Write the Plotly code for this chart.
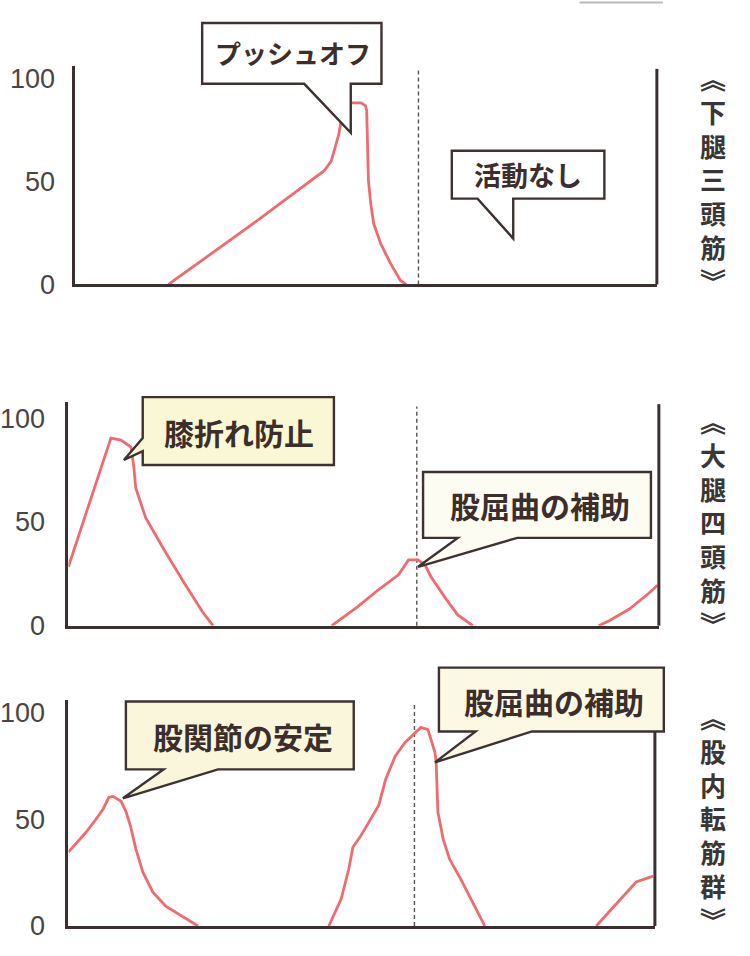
import plotly.graph_objects as go

W, H = 750, 956
EFF_H = 942  # vertical extent the page is actually shown at

# ---------------- data (x = % of gait cycle, y = muscle activity %) ----------------
P1_X = [16.0, 30.8, 42.8, 44.0, 45.3, 45.8, 47.0, 47.4, 49.1, 49.9, 50.1, 50.4, 50.8, 51.3, 52.5, 54.2, 55.9, 56.9]
P1_Y = [0, 30, 55.3, 60, 73, 81, 87, 88.3, 88.3, 87, 84.5, 50.5, 39.3, 29.6, 19.9, 10.2, 1.9, 0]

P2A_X = [0, 7.2, 8.9, 10.6, 11.1, 11.4, 13.1, 16.4, 19.8, 22.7, 24.5]
P2A_Y = [28.4, 90.4, 89.4, 86, 76, 66.3, 51.9, 35.6, 19.7, 6.7, 0]
P2B_X = [44.6, 48.8, 52.5, 55.9, 57.6, 59.2, 60.4, 61.4, 63.8, 65.9, 68.5]
P2B_Y = [0, 8.7, 17.3, 24.5, 31.7, 31.7, 29.3, 23.6, 13.5, 5.3, 0]
P2C_X = [89.8, 91.6, 95.0, 97.8, 99.8]
P2C_Y = [0, 2.4, 8, 14.4, 19.5]

P3A_X = [0, 3.0, 4.7, 5.9, 6.9, 7.6, 9.0, 9.8, 10.6, 11.5, 12.7, 14.4, 16.6, 19.4, 22.1]
P3A_Y = [34.6, 43.9, 50, 54.7, 60.3, 60.7, 58.4, 53.7, 46.7, 36, 25.2, 15.9, 9.3, 4.7, 0]
P3B_X = [44.4, 46.5, 47.8, 48.5, 49.8, 51.5, 52.9, 54.1, 55.7, 57.4, 59.1, 60.1, 61.3, 62.5, 62.7,
         63.0, 63.9, 65.0, 66.9, 69.3, 71.0]
P3B_Y = [0, 12.6, 26.6, 36.9, 42, 50, 56.5, 68.7, 79.4, 86, 90.7, 93, 92, 81.3, 77,
         53.3, 40.7, 31.3, 22, 9.3, 0]
P3C_X = [90.0, 92.2, 94.6, 96.8, 99.7]
P3C_Y = [0, 6.5, 14, 20.6, 23.4]

PHASE_BOUNDARY = 59  # stance / swing boundary (dashed line)

TICK_VALS = [0, 50, 100]
TICK_TEXT = ["0", "50", "100"]

MUSCLES = ["下腿三頭筋", "大腿四頭筋", "股内転筋群"]
CALLOUTS = ["プッシュオフ", "活動なし", "膝折れ防止", "股屈曲の補助", "股関節の安定", "股屈曲の補助"]

# ---------------- styling ----------------
RED = "#ee6b6f"
AXC = "#3a3030"
TXT = "#3b2e2b"
CJK = "Noto Sans CJK JP"


def px(x):
    return x / W


def py(y):
    return 1 - y / EFF_H


fig = go.Figure()

series = [
    (1, [(P1_X, P1_Y)]),
    (2, [(P2A_X, P2A_Y), (P2B_X, P2B_Y), (P2C_X, P2C_Y)]),
    (3, [(P3A_X, P3A_Y), (P3B_X, P3B_Y), (P3C_X, P3C_Y)]),
]
for i, segs in series:
    for xs, ys in segs:
        fig.add_trace(go.Scatter(
            x=xs, y=ys, mode="lines",
            line=dict(color=RED, width=2.8),
            xaxis="x" if i == 1 else f"x{i}",
            yaxis="y" if i == 1 else f"y{i}",
            hoverinfo="skip", showlegend=False,
        ))

# panel geometry in pixels: (left, right, top, bottom(y=0), y=100 position)
panels = {
    1: (69, 656, 65, 284, 78),
    2: (62, 658, 402, 626, 418),
    3: (62, 654, 700, 927, 713),
}
standoff = {1: 12, 2: 15, 3: 15}

layout_axes = {}
shapes = []
for i, (l, r, t, b, y100) in panels.items():
    ppu = (b - y100) / 100.0
    ymax = (b - t) / ppu
    xa = "xaxis" if i == 1 else f"xaxis{i}"
    ya = "yaxis" if i == 1 else f"yaxis{i}"
    xr = "x" if i == 1 else f"x{i}"
    yr = "y" if i == 1 else f"y{i}"
    layout_axes[xa] = dict(
        domain=[px(l), px(r)], range=[0, 100], anchor=yr,
        showline=True, linecolor=AXC, linewidth=3,
        showgrid=False, zeroline=False, showticklabels=False, ticks="",
        fixedrange=True,
    )
    layout_axes[ya] = dict(
        domain=[py(b), py(t)], range=[0, ymax], anchor=xr,
        showline=True, linecolor=AXC, linewidth=3,
        showgrid=False, zeroline=False, ticks="",
        tickvals=TICK_VALS, ticktext=TICK_TEXT,
        tickfont=dict(family="Liberation Sans, Arial", size=27, color="#4a4545"),
        ticklabelstandoff=standoff[i],
        fixedrange=True,
    )
    shapes.append(dict(type="line", xref=f"{xr} domain", yref=f"{yr} domain",
                       x0=1, x1=1, y0=0, y1=1 - (3 if i == 1 else 2) / (b - t),
                       line=dict(color=AXC, width=3), layer="above"))
    shapes.append(dict(type="line", xref=xr, yref=f"{yr} domain",
                       x0=PHASE_BOUNDARY, x1=PHASE_BOUNDARY, y0=0, y1=0.98,
                       line=dict(color="#5a5252", width=1.4, dash="4px,3px"), layer="below"))


def callout_bottom(x0, y0, x1, y1, tl, tr, tip):
    return [(x0, y0), (x1, y0), (x1, y1), (tr, y1), tip, (tl, y1), (x0, y1)]


def callout_left(x0, y0, x1, y1, ta, tb, tip):
    return [(x0, y0), (x1, y0), (x1, y1), (x0, y1), (x0, tb), tip, (x0, ta)]


def path_of(pts):
    return "M " + " L ".join(f"{px(x):.5f},{py(y):.5f}" for x, y in pts) + " Z"


boxes = [
    (CALLOUTS[0], callout_bottom(197, 22, 378, 83, 300, 347, (347, 132)), "#ffffff", (289, 52), 26),
    (CALLOUTS[1], callout_bottom(449, 150, 603, 198, 475, 511, (511, 238)), "#ffffff", (526, 174), 27),
    (CALLOUTS[2], callout_left(137, 397, 330, 465, 438, 451, (118, 460)), "#faf7d4", (234, 432), 30),
    (CALLOUTS[3], callout_bottom(420, 472, 650, 538, 455, 515, (415, 567)), "#fdfcf3", (538, 505), 30),
    (CALLOUTS[4], callout_bottom(120, 702, 350, 770, 158, 213, (117, 799)), "#f9f6dc", (238, 737), 30),
    (CALLOUTS[5], callout_bottom(436, 668, 663, 732, 473, 530, (432, 763)), "#fbf8e4", (552, 701), 30),
]

annotations = []
for text, pts, fill, (cx, cy), fs in boxes:
    shapes.append(dict(type="path", xref="paper", yref="paper", path=path_of(pts),
                       fillcolor=fill, line=dict(color="#3d3230", width=2.4), layer="above"))
    annotations.append(dict(xref="paper", yref="paper", x=px(cx), y=py(cy),
                            xanchor="center", yanchor="middle", showarrow=False,
                            text=f"<b>{text}</b>",
                            font=dict(family=CJK, size=fs, color=TXT)))

for name, cy in zip(MUSCLES, [178, 522, 819]):
    vtxt = "<br>".join(["︽"] + list(name) + ["︾"])
    annotations.append(dict(xref="paper", yref="paper", x=px(713), y=py(cy),
                            xanchor="center", yanchor="middle", showarrow=False,
                            text=f"<b>{vtxt}</b>", align="center",
                            font=dict(family=CJK, size=26, color="#3a3636")))

# fragments of the previous (cut-off) panel at the very top
annotations.append(dict(xref="paper", yref="paper", x=px(716), y=py(16),
                        xanchor="center", yanchor="bottom", showarrow=False,
                        text="<b>︾</b>", font=dict(family=CJK, size=25, color="#3a3636")))
shapes.append(dict(type="line", xref="paper", yref="paper", x0=px(578), x1=px(662),
                   y0=py(1.5), y1=py(1.5), line=dict(color="#bdb8b8", width=2)))

fig.update_layout(
    width=W, height=H,
    margin=dict(l=0, r=0, t=0, b=0),
    paper_bgcolor="white", plot_bgcolor="white",
    showlegend=False,
    shapes=shapes, annotations=annotations,
    **layout_axes,
)

PAGE_FIX = (
    "var s=document.documentElement.style;s.margin='0';s.padding='0';s.overflow='hidden';"
    "s.height='956px';s.width='750px';"
    "var b=document.body.style;b.margin='0';b.padding='0';b.overflow='hidden';"
    "b.height='956px';b.width='750px';"
)

fig.write_html("out.html", config={"displayModeBar": False}, post_script=PAGE_FIX)
